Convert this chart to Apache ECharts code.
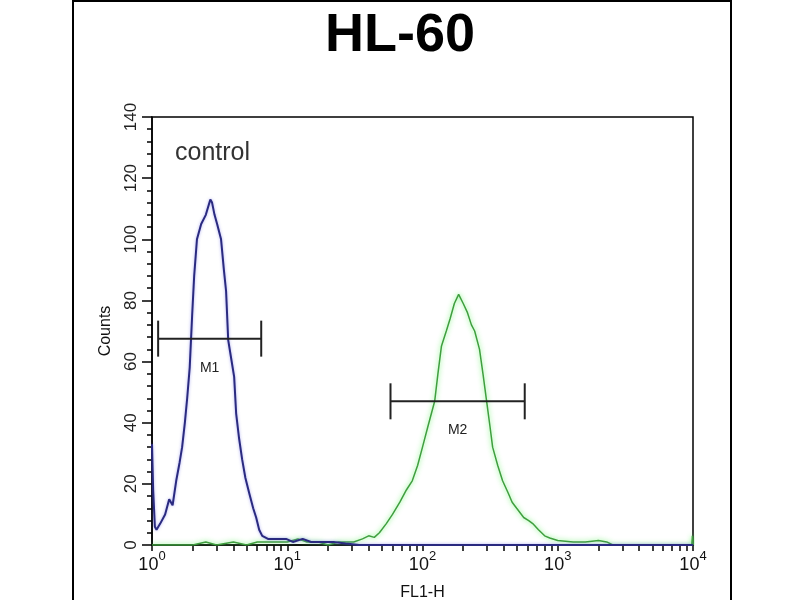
<!DOCTYPE html>
<html>
<head>
<meta charset="utf-8">
<script src="https://cdn.jsdelivr.net/npm/echarts@6/dist/echarts.min.js"></script>
<style>
  html, body { margin: 0; padding: 0; background: #fff; }
  #chart { width: 800px; height: 600px; }
</style>
</head>
<body>
<div id="chart"></div>
<script>
// control histogram (blue), FL1-H value / counts
const controlX = [1.0, 1.02, 1.05, 1.08, 1.15, 1.25, 1.34, 1.42, 1.51, 1.6, 1.67, 1.75, 1.82, 1.9, 1.98, 2.05, 2.15, 2.31, 2.5, 2.7, 2.78, 2.9, 3.03, 3.24, 3.4, 3.53, 3.66, 3.85, 4.05, 4.19, 4.4, 4.64, 4.9, 5.23, 5.6, 5.89, 6.2, 6.53, 7.2, 8, 9.8, 11, 13, 15, 18, 22, 27, 34, 10000];
const controlY = [33, 18, 6, 5, 7, 10, 15, 13, 21, 27, 32, 40, 48, 58, 75, 88, 100, 105, 108, 113, 112, 108, 105, 100, 90, 83, 67, 61, 55, 43, 35, 28, 22, 17, 12, 9, 5, 3, 2, 2, 2, 1, 2, 1, 1, 1, 0.5, 0, 0];
// sample histogram (green)
const sampleX = [1, 2, 2.5, 3, 4, 5, 6, 8, 10, 12, 14, 17, 20, 24, 28, 31, 36, 40, 44, 48, 54, 60, 68, 76, 84, 92, 100, 110, 123, 130, 138, 150, 160, 172, 185, 200, 215, 230, 243, 264, 280, 298, 315, 330, 360, 391, 430, 460, 497, 560, 610, 653, 720, 800, 873, 1000, 1300, 1600, 2000, 2300, 2555, 9800, 9900, 10000];
const sampleY = [0, 0, 1, 0, 1, 0, 1, 1, 1, 2, 1, 1, 0, 1, 1, 1, 2, 3, 2.5, 4, 7, 10, 14, 18, 21, 26, 32, 39, 47, 56, 65, 70, 74, 79, 82, 79, 76, 72, 70, 64, 56, 47, 39, 32, 26, 21, 17, 14, 12, 9, 8, 7, 5, 3, 2.3, 1.5, 1, 1, 1.5, 1, 0, 0, 3, 0];
// marker gates
const markerNames = ['M1', 'M2'];
const markerStart = [1.11, 58];
const markerEnd = [6.42, 570];
const markerLevel = [67.5, 47];
// axis ticks
const decadeTicks = [1, 10, 100, 1000, 10000];
const minorTicks = [];
decadeTicks.slice(0, 4).forEach(d => { for (let k = 1; k < 10; k++) minorTicks.push(d * k); });
minorTicks.push(10000);

const font = 'Liberation Sans, Arial, sans-serif';
const chart = echarts.init(document.getElementById('chart'));

chart.setOption({
  backgroundColor: '#fff',
  animation: false,
  title: {
    text: 'HL-60',
    left: 'center',
    top: 4,
    textStyle: { fontFamily: font, fontSize: 54, fontWeight: 'bold', color: '#000' }
  },
  graphic: [
    { type: 'rect', shape: { x: 73, y: 1, width: 658, height: 640 }, style: { fill: null, stroke: '#000', lineWidth: 2 }, z: 10 },
    { type: 'text', left: 175, top: 141, style: { text: 'control', font: '25px ' + font, fill: '#333' }, z: 10 }
  ],
  grid: {
    left: 152, right: 107, top: 117, bottom: 55,
    outerBoundsMode: 'none',
    show: true, borderColor: '#000', borderWidth: 1.5
  },
  xAxis: {
    type: 'log',
    logBase: 10,
    min: 1,
    max: 10000,
    name: 'FL1-H',
    nameLocation: 'middle',
    nameGap: 40,
    nameTextStyle: { fontFamily: font, fontSize: 16, color: '#111' },
    axisLine: { lineStyle: { color: '#000', width: 1.5 } },
    axisTick: { customValues: minorTicks, length: 6, lineStyle: { color: '#000', width: 1.5 } },
    splitLine: { show: false },
    axisLabel: {
      customValues: decadeTicks,
      margin: 5,
      formatter: v => '{b|10}{s|' + Math.round(Math.log10(v)) + '}',
      rich: {
        b: { fontFamily: font, fontSize: 18, color: '#111', lineHeight: 24, verticalAlign: 'bottom' },
        s: { fontFamily: font, fontSize: 13, color: '#111', lineHeight: 24, verticalAlign: 'top' }
      }
    }
  },
  yAxis: {
    type: 'value',
    min: 0,
    max: 140,
    interval: 20,
    name: 'Counts',
    nameLocation: 'middle',
    nameGap: 38,
    nameRotate: 90,
    nameTextStyle: { fontFamily: font, fontSize: 16, color: '#111' },
    axisLine: { show: true, lineStyle: { color: '#000', width: 1.5 } },
    axisTick: { show: true, length: 10, lineStyle: { color: '#000', width: 1.5 } },
    minorTick: { show: true, splitNumber: 5, length: 5, lineStyle: { color: '#000', width: 1.5 } },
    splitLine: { show: false },
    axisLabel: { rotate: 90, margin: 12, fontFamily: font, fontSize: 17, color: '#222' }
  },
  series: [
    {
      name: 'control',
      type: 'line',
      showSymbol: false,
      data: controlX.map((x, i) => [x, controlY[i]]),
      lineStyle: { color: '#2a2a80', width: 2, shadowColor: 'rgba(90,90,230,0.5)', shadowBlur: 3 },
      z: 3
    },
    {
      name: 'sample',
      type: 'line',
      showSymbol: false,
      data: sampleX.map((x, i) => [x, sampleY[i]]),
      lineStyle: { color: '#3f9f3f', width: 1.5, shadowColor: 'rgba(90,240,90,0.9)', shadowBlur: 5 },
      z: 2
    },
    {
      name: 'markers',
      type: 'custom',
      data: markerNames.map((n, i) => [markerStart[i], markerEnd[i], markerLevel[i], n]),
      encode: { x: [0, 1], y: 2 },
      renderItem: (params, api) => {
        const a = api.coord([api.value(0), api.value(2)]);
        const b = api.coord([api.value(1), api.value(2)]);
        const st = { stroke: '#222', lineWidth: 2 };
        return {
          type: 'group',
          children: [
            { type: 'line', shape: { x1: a[0], y1: a[1], x2: b[0], y2: b[1] }, style: st },
            { type: 'line', shape: { x1: a[0], y1: a[1] - 18, x2: a[0], y2: a[1] + 18 }, style: st },
            { type: 'line', shape: { x1: b[0], y1: b[1] - 18, x2: b[0], y2: b[1] + 18 }, style: st },
            {
              type: 'text',
              style: {
                text: api.value(3), x: (a[0] + b[0]) / 2, y: a[1] + 29,
                textAlign: 'center', textVerticalAlign: 'middle',
                font: '14px ' + font, fill: '#222'
              }
            }
          ]
        };
      },
      z: 4
    }
  ]
});
</script>
</body>
</html>
